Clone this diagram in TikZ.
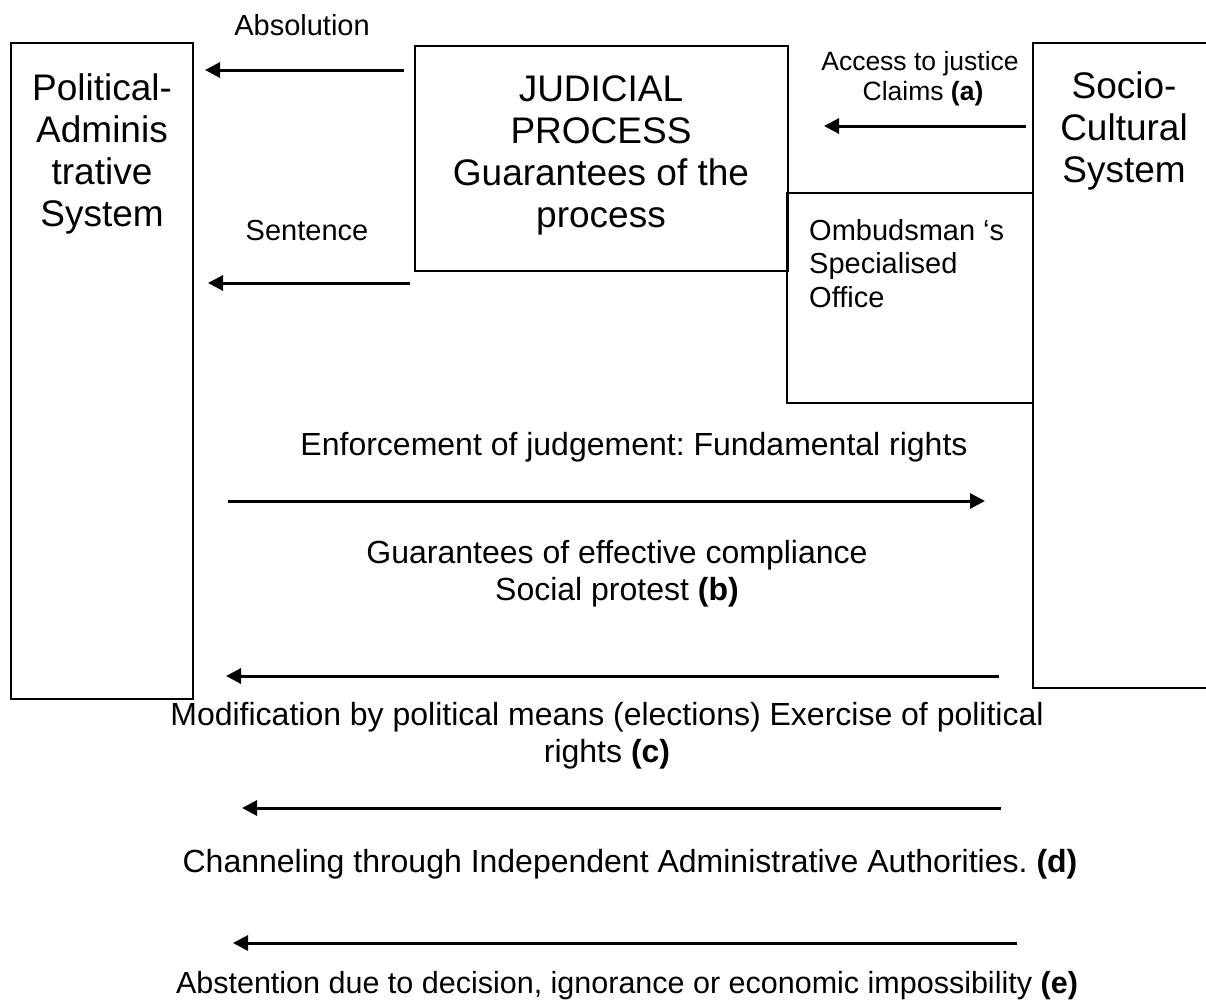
\documentclass[tikz,border=0pt]{standalone}
\usepackage{fontspec}
\setmainfont{Liberation Sans}
\usetikzlibrary{arrows.meta}
\begin{document}
\frenchspacing
\begin{tikzpicture}[x=1pt,y=-1pt,
  box/.style={draw, line width=1.8pt, inner sep=0pt, outer sep=0pt},
  flow/.style={line width=3pt, -{Triangle[length=15pt,width=15pt]}},
  big/.style={font=\fontsize{37}{42}\selectfont, align=center, inner sep=0pt, anchor=base},
  mid/.style={font=\fontsize{32}{37}\selectfont, align=center, inner sep=0pt, anchor=base},
  small/.style={font=\fontsize{29}{33.5}\selectfont, inner sep=0pt, anchor=base},
  tiny/.style={font=\fontsize{26.5}{30}\selectfont, align=center, inner sep=0pt, anchor=base}]
\useasboundingbox (0,0) rectangle (1206,1002);
\clip (0,0) rectangle (1206,1002);
\fill[white] (0,0) rectangle (1206,1002);

% boxes
\node[box, minimum width=182pt, minimum height=656pt] (pol) at (102,371) {};
\node[box, minimum width=373pt, minimum height=225pt] (jud) at (601.5,158.5) {};
\node[box, minimum width=246pt, minimum height=210pt] (omb) at (910,298) {};
\node[box, minimum width=190pt, minimum height=645pt] (soc) at (1128,365.5) {};

% box texts (base anchor = baseline of the last line)
\node[big] (polt) at (102,226) {Political-\\Adminis\\trative\\System};
\node[big] (judt) at (601,227) {JUDICIAL\\PROCESS\\Guarantees of the\\process};
\node[big] (soct) at (1124,182) {Socio-\\Cultural\\System};
\node[small, anchor=base west, align=left] (ombt) at (809,307) {Ombudsman ‘s\\Specialised\\Office};

% labels
\node[small] (absl) at (302,35) {Absolution};
\node[small] (senl) at (307,240) {Sentence};
\node[tiny] (accl) at (920,100) {Access to justice\\\hspace*{6pt}Claims \textbf{(a)}};
\node[mid] (enfl) at (634,455) {Enforcement of judgement: Fundamental rights};
\node[mid] (guarl) at (617,600) {Guarantees of effective compliance\\Social protest \textbf{(b)}};
\node[mid] (modl) at (607,762) {Modification by political means (elections) Exercise of political\\rights \textbf{(c)}};
\node[mid] (chanl) at (630,872) {Channeling through Independent Administrative Authorities. \textbf{(d)}};
\node[mid, font=\fontsize{30.5}{35}\selectfont] (abstl) at (627,993) {Abstention due to decision, ignorance or economic impossibility \textbf{(e)}};

% arrow end points
\coordinate (a1) at (404,70);  \coordinate (a2) at (205,70);
\coordinate (s1) at (410,283); \coordinate (s2) at (208,283);
\coordinate (j1) at (1026,126); \coordinate (j2) at (824,126);
\coordinate (e1) at (228,501); \coordinate (e2) at (985,501);
\coordinate (b1) at (999,676); \coordinate (b2) at (226,676);
\coordinate (d1) at (1001,808); \coordinate (d2) at (242,808);
\coordinate (x1) at (1017,943); \coordinate (x2) at (233,943);

\draw[flow] (a1) -- (a2);
\draw[flow] (s1) -- (s2);
\draw[flow] (j1) -- (j2);
\draw[flow] (e1) -- (e2);
\draw[flow] (b1) -- (b2);
\draw[flow] (d1) -- (d2);
\draw[flow] (x1) -- (x2);
\end{tikzpicture}
\end{document}
